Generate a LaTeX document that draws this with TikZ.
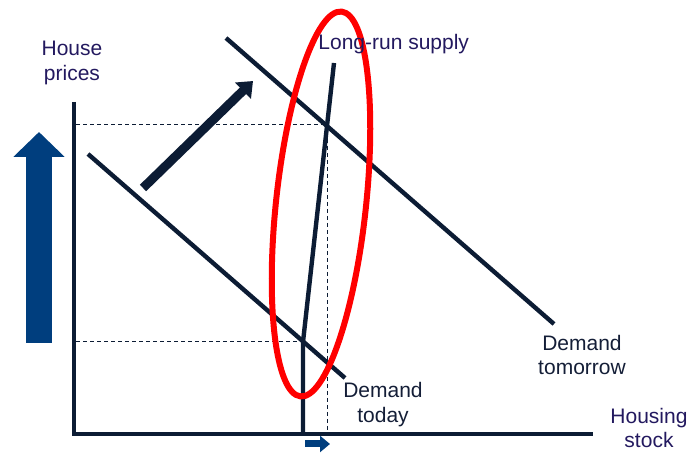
\documentclass[tikz,border=0pt]{standalone}
\usepackage{fontspec}
\setmainfont{Liberation Sans}
\usepackage{xcolor}
\usepackage{tikz}
\usetikzlibrary{arrows.meta, positioning}
\definecolor{mynavy}{RGB}{12,28,52}
\definecolor{myblue}{RGB}{0,62,126}
\definecolor{myred}{RGB}{255,0,0}
\definecolor{axtext}{RGB}{35,25,95}
\definecolor{curvetext}{RGB}{20,30,55}
\tikzset{
  axis/.style={line width=2.2pt, color=mynavy},
  curve/.style={line width=2.2pt, color=mynavy},
  guide/.style={line width=0.5pt, color=mynavy, dash pattern=on 2pt off 1.5pt},
  axlabel/.style={font=\fontsize{10.5}{12.5}\selectfont, text=axtext,
    align=center, inner sep=0pt},
  curvelabel/.style={font=\fontsize{10.5}{12.5}\selectfont, text=curvetext,
    align=center, inner sep=0pt},
  shift arrow/.style={-{Triangle[length=7pt, width=11pt]}, line width=4.5pt, color=mynavy},
  up arrow/.style={-{Triangle[length=12.5pt, width=25pt]}, line width=13pt, color=myblue},
  right arrow/.style={-{Triangle[length=5pt, width=8pt]}, line width=3.5pt, color=myblue}
}

\begin{document}
\begin{tikzpicture}[x=0.5pt, y=-0.5pt]
  \useasboundingbox (0,0) rectangle (687,453);

  % Points
  \coordinate (o) at (74,434);
  \coordinate (ytop) at (74,102);
  \coordinate (xend) at (593,434);
  \coordinate (dt1) at (88,154);
  \coordinate (dt2) at (345,378);
  \coordinate (dm1) at (226,38);
  \coordinate (dm2) at (554,324);
  \coordinate (s0) at (303,434);
  \coordinate (eqlow) at (303,342);
  \coordinate (s2) at (334,63);
  \coordinate (eqhigh) at (327,125);

  % Guides
  \draw[guide] ([xshift=1pt]o |- eqlow) -- (eqlow);
  \draw[guide] ([xshift=1pt]o |- eqhigh) -- (eqhigh);
  \draw[guide] (eqhigh) -- (eqhigh |- o);

  % Axes
  \draw[axis] (ytop) -- (o) -- (xend);

  % Curves
  \draw[curve] (dt1) -- (dt2);
  \draw[curve] (dm1) -- (dm2);
  \draw[curve] (s0) -- (eqlow) -- (s2);

  % Arrows
  \coordinate (sh1) at (143,188);
  \coordinate (sh2) at (253,81);
  \draw[shift arrow] (sh1) -- (sh2);
  \coordinate (ua1) at (39,343);
  \coordinate (ua2) at (39,132);
  \draw[up arrow] (ua1) -- (ua2);
  \coordinate (ra1) at (305,444);
  \coordinate (ra2) at (330,444);
  \draw[right arrow] (ra1) -- (ra2);

  % Highlight
  \draw[myred, line width=3pt, rotate around={83.9:(321,204)}]
    (321,204) ellipse [x radius=193.5, y radius=45];

  % Labels
  \node[axlabel] (price) at (72,63) {House\\prices};
  \node[axlabel, anchor=west] (lrs) at (318,44) {Long-run supply};
  \node[curvelabel] (dtlab) at (383,405) {Demand\\today};
  \node[curvelabel] (dmlab) at (582,355) {Demand\\tomorrow};
  \node[axlabel] (stock) at (649,428) {Housing\\stock};
\end{tikzpicture}
\end{document}
